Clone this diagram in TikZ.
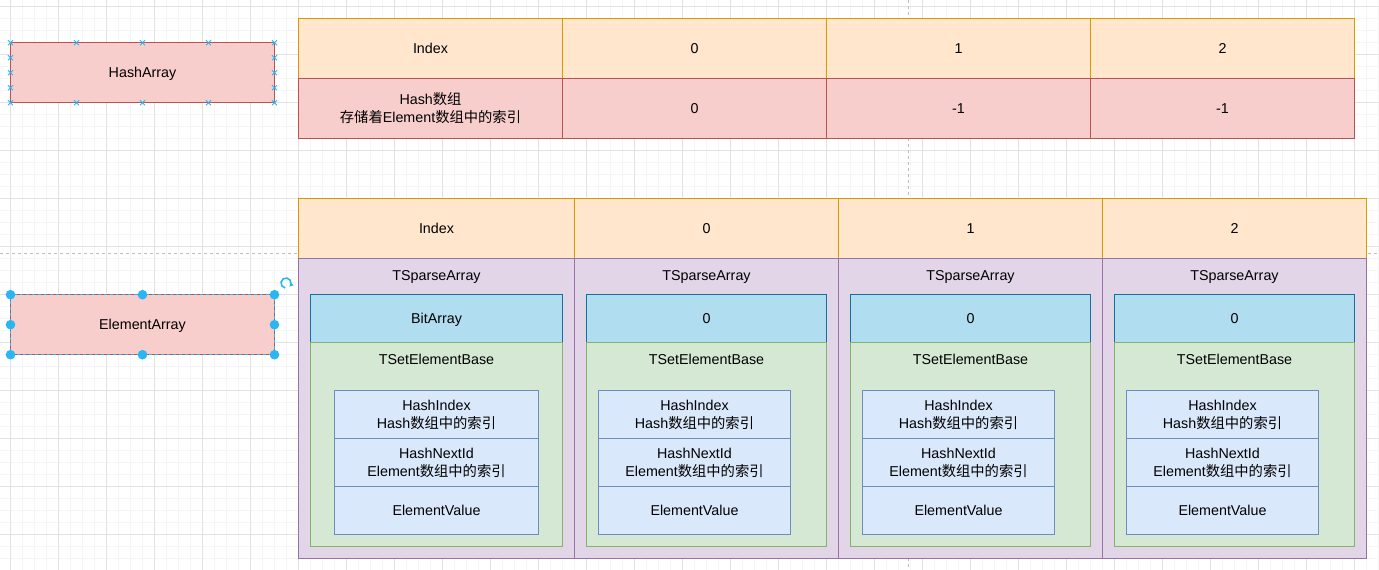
\documentclass[tikz,border=0pt]{standalone}
\usepackage{fontspec}
\setmainfont{Liberation Sans}
\newfontfamily\cjk{Noto Sans CJK SC}
\usetikzlibrary{arrows.meta}
\definecolor{orF}{HTML}{FFE6CC}\definecolor{orD}{HTML}{D79B00}
\definecolor{rdF}{HTML}{F8CECC}\definecolor{rdD}{HTML}{B85450}
\definecolor{puF}{HTML}{E1D5E7}\definecolor{puD}{HTML}{9673A6}
\definecolor{blF}{HTML}{B1DDF0}\definecolor{blD}{HTML}{10739E}
\definecolor{grF}{HTML}{D5E8D4}\definecolor{grD}{HTML}{82B366}
\definecolor{lbF}{HTML}{DAE8FC}\definecolor{lbD}{HTML}{6C8EBF}
\definecolor{hdl}{HTML}{29B6F2}
\definecolor{gmaj}{HTML}{E2E2E2}\definecolor{gmin}{HTML}{F5F5F5}
\definecolor{pgbrk}{HTML}{BDBDBD}
\newcommand\C[1]{{\cjk #1}}
\newcommand\sx{\vrule width 0pt height 13.5pt depth 3.5pt\relax}
\newcommand\bx[7]{\node[#1, minimum width={(#5-#3)*1pt}, minimum height={(#6-#4)*1pt}, anchor=north west] (#2) at (#3,#4) {\sx#7\sx};}
\tikzset{
  cell/.style={rectangle, inner sep=0pt, outer sep=0pt, line width=1.2pt, align=center,
    font=\fontsize{14.3}{18}\selectfont, text=black},
  sOr/.style={cell, fill=orF, draw=orD},
  sRd/.style={cell, fill=rdF, draw=rdD},
  sPu/.style={cell, fill=puF, draw=puD},
  sBl/.style={cell, fill=blF, draw=blD},
  sGr/.style={cell, fill=grF, draw=grD},
  sLb/.style={cell, fill=lbF, draw=lbD},
  lbl/.style={inner sep=0pt, font=\fontsize{14.3}{18}\selectfont, text=black, text height=13.5pt, text depth=3.5pt},
  gminor/.style={draw=gmin, line width=0.8pt},
  gmajor/.style={draw=gmaj, line width=0.9pt},
  pbreak/.style={draw=pgbrk, line width=0.9pt, dash pattern=on 3pt off 3pt},
  xmark/.style={draw=hdl, line width=0.9pt},
  handle/.style={circle, fill=hdl, inner sep=0pt, minimum size=9.6pt},
}
\begin{document}
\begin{tikzpicture}[x=1pt,y=-1pt]
\useasboundingbox (0,0) rectangle (1379,570);
\fill[white] (0,0) rectangle (1379,570);
% grid
\foreach \i in {-1,...,114} \draw[gminor] ({10.5+12*\i},0) -- ({10.5+12*\i},570);
\foreach \i in {-1,...,47} \draw[gminor] (0,{6.7+12*\i}) -- (1379,{6.7+12*\i});
\foreach \i in {0,...,28} \draw[gmajor] ({10.5+48*\i},0) -- ({10.5+48*\i},570);
\foreach \i in {0,...,11} \draw[gmajor] (0,{6.7+48*\i}) -- (1379,{6.7+48*\i});
% page breaks
\coordinate (pbt) at (908.7,0); \coordinate (pbb) at (908.7,570);
\coordinate (pbl) at (0,253.3); \coordinate (pbr) at (1379,253.3);
\draw[pbreak] (pbt) -- (pbb);
\draw[pbreak] (pbl) -- (pbr);

% left boxes
\bx{sRd}{ha}{10.5}{42.7}{274.5}{102.7}{HashArray}
\bx{sRd}{ea}{10.5}{294.7}{274.5}{354.7}{ElementArray}

% top table
\bx{sOr}{th0}{298.5}{18.7}{562.5}{78.7}{Index}
\bx{sOr}{th1}{562.5}{18.7}{826.5}{78.7}{0}
\bx{sOr}{th2}{826.5}{18.7}{1090.5}{78.7}{1}
\bx{sOr}{th3}{1090.5}{18.7}{1354.5}{78.7}{2}
\bx{sRd}{tr0}{298.5}{78.7}{562.5}{138.7}{Hash\C{数组}\\\C{存储着}Element\C{数组中的索引}}
\bx{sRd}{tr1}{562.5}{78.7}{826.5}{138.7}{0}
\bx{sRd}{tr2}{826.5}{78.7}{1090.5}{138.7}{-1}
\bx{sRd}{tr3}{1090.5}{78.7}{1354.5}{138.7}{-1}

% bottom table header
\bx{sOr}{bh0}{298.5}{198.7}{574.5}{258.7}{Index}
\bx{sOr}{bh1}{574.5}{198.7}{838.5}{258.7}{0}
\bx{sOr}{bh2}{838.5}{198.7}{1102.5}{258.7}{1}
\bx{sOr}{bh3}{1102.5}{198.7}{1366.5}{258.7}{2}

% bottom table body
\foreach \n/\L/\R/\bL/\bR/\iL/\iR/\bt in {
  0/298.5/574.5/310.5/562.5/334.5/538.5/BitArray,
  1/574.5/838.5/586.5/826.5/598.5/790.5/0,
  2/838.5/1102.5/850.5/1090.5/862.5/1054.5/0,
  3/1102.5/1366.5/1114.5/1354.5/1126.5/1318.5/0}{
  \bx{sPu}{sp\n}{\L}{258.7}{\R}{558.7}{}
  \node[lbl] (spl\n) at ({(\L+\R)/2},275) {TSparseArray};
  \bx{sBl}{ba\n}{\bL}{294.7}{\bR}{342.7}{\bt}
  \bx{sGr}{gb\n}{\bL}{342.7}{\bR}{546.7}{}
  \node[lbl] (gbl\n) at ({(\bL+\bR)/2},359) {TSetElementBase};
  \bx{sLb}{hi\n}{\iL}{390.7}{\iR}{438.7}{HashIndex\\Hash\C{数组中的索引}}
  \bx{sLb}{hn\n}{\iL}{438.7}{\iR}{486.7}{HashNextId\\Element\C{数组中的索引}}
  \bx{sLb}{ev\n}{\iL}{486.7}{\iR}{534.7}{ElementValue}
}

% connection-point markers on HashArray
\foreach \x in {10.5,76.5,142.5,208.5,274.5}{
  \foreach \y in {42.7,102.7}{
    \draw[xmark] (\x-2.5,\y-2.5) -- (\x+2.5,\y+2.5) (\x-2.5,\y+2.5) -- (\x+2.5,\y-2.5);}}
\foreach \x in {10.5,274.5}{
  \foreach \y in {57.7,72.7,87.7}{
    \draw[xmark] (\x-2.5,\y-2.5) -- (\x+2.5,\y+2.5) (\x-2.5,\y+2.5) -- (\x+2.5,\y-2.5);}}

% selection of ElementArray
\draw[draw=hdl, line width=0.9pt, dash pattern=on 3pt off 3pt] (ea.north west) rectangle (ea.south east);
\foreach \a in {north west,north,north east,west,east,south west,south,south east}
  \node[handle] at (ea.\a) {};
\coordinate (rot) at (286,283);
\draw[draw=hdl, line width=1.6pt, -{Triangle[length=3.2pt,width=4.5pt]}]
  ([shift={(rot)}] 100:5) arc[start angle=100, end angle=400, radius=5];
\end{tikzpicture}
\end{document}
